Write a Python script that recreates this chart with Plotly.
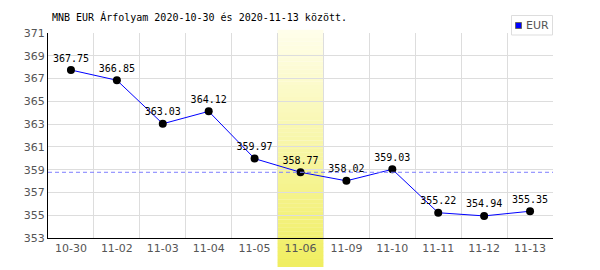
import plotly.graph_objects as go

dates = ["10-30", "11-02", "11-03", "11-04", "11-05", "11-06", "11-09", "11-10", "11-11", "11-12", "11-13"]
eur = [367.75, 366.85, 363.03, 364.12, 359.97, 358.77, 358.02, 359.03, 355.22, 354.94, 355.35]
series_name = "EUR"
highlight_idx = 5
y_ticks = [353, 355, 357, 359, 361, 363, 365, 367, 369, 371]

fig = go.Figure()

fig.add_trace(go.Scatter(
    x=dates, y=eur, mode="lines+markers+text", name=series_name,
    line=dict(color="#0000ff", width=1),
    marker=dict(color="#000000", size=8),
    text=[f"{v:.2f}" for v in eur], textposition="top center",
    textfont=dict(family="DejaVu Sans Mono", size=10, color="#000000"),
    showlegend=False, cliponaxis=False,
))

L, R, T, B = 48, 553, 33, 238
def px(xp):
    return (xp - L) / (R - L)
def py(yp):
    return (B - yp) / (B - T)

shapes = []
# gradient highlight band
n = 60
y0p, y1p = py(267), py(30)
top = (255, 254, 235)
bot = (240, 238, 96)
for i in range(n):
    t = (i + 0.5) / n
    c = tuple(int(round(top[k] + (bot[k] - top[k]) * t)) for k in range(3))
    ya = y1p - (y1p - y0p) * i / n
    yb = y1p - (y1p - y0p) * (i + 1) / n
    shapes.append(dict(type="rect", xref="x", yref="paper",
                       x0=highlight_idx - 0.5, x1=highlight_idx + 0.5,
                       y0=yb, y1=ya + 0.001, fillcolor=f"rgb{c}",
                       line=dict(width=0), layer="below"))
shapes.append(dict(type="line", xref="paper", yref="y", x0=0, x1=1,
                   y0=eur[highlight_idx], y1=eur[highlight_idx],
                   line=dict(color="#7f7fff", width=1, dash="4px,3px"), layer="above"))
# legend box
shapes.append(dict(type="rect", xref="paper", yref="paper",
                   x0=px(511.5), x1=px(552.5), y0=py(35), y1=py(15.5),
                   fillcolor="white", line=dict(color="#dddddd", width=1), layer="above"))
shapes.append(dict(type="rect", xref="paper", yref="paper",
                   x0=px(515.5), x1=px(521.5), y0=py(28.5), y1=py(22.5),
                   fillcolor="#0000ff", line=dict(color="#666666", width=1), layer="above"))

fig.update_layout(
    width=600, height=270,
    margin=dict(l=L, r=600 - R, t=T, b=270 - B),
    paper_bgcolor="white", plot_bgcolor="white",
    shapes=shapes,
    showlegend=False,
    annotations=[dict(text=series_name, xref="paper", yref="paper",
                      x=px(524), y=py(25.5), xanchor="left", yanchor="middle",
                      showarrow=False,
                      font=dict(family="DejaVu Sans", size=11, color="#555555"))],
    title=dict(text="MNB EUR Árfolyam 2020-10-30 és 2020-11-13 között.",
               x=52 / 600, xanchor="left", xref="container",
               y=1 - 17 / 270, yanchor="middle", yref="container",
               font=dict(family="DejaVu Sans Mono", size=10, color="#000000")),
    xaxis=dict(type="category", range=[-0.5, len(dates) - 0.5],
               tickson="boundaries", showgrid=True, gridcolor="#dddddd", gridwidth=1,
               showline=True, linecolor="#000000", linewidth=1, ticks="",
               tickfont=dict(family="DejaVu Sans", size=11, color="#555555"),
               zeroline=False, layer="above traces"),
    yaxis=dict(range=[353, 371], tickvals=y_ticks, showgrid=True,
               gridcolor="#dddddd", gridwidth=1,
               showline=True, linecolor="#000000", linewidth=1, ticks="",
               tickfont=dict(family="DejaVu Sans", size=11, color="#555555"),
               zeroline=False),
)

fig.write_html("out.html")
